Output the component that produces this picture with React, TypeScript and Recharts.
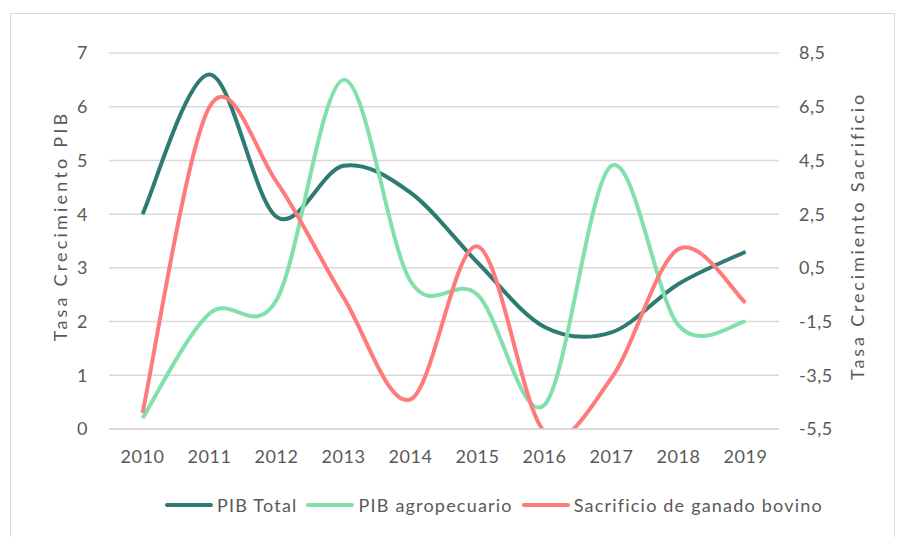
import { LineChart, Line, XAxis, YAxis, CartesianGrid, Legend } from 'recharts'

// años del eje X
const years = ['2010', '2011', '2012', '2013', '2014', '2015', '2016', '2017', '2018', '2019']

// eje izquierdo
const pibTotal = [4.0, 6.6, 3.95, 4.9, 4.4, 3.1, 1.9, 1.8, 2.7, 3.3]
const pibAgro = [0.2, 2.15, 2.4, 6.5, 2.75, 2.5, 0.45, 4.9, 1.93, 2.0]

// eje derecho
const sacrificio = [-4.9, 6.5, 3.7, -0.6, -4.4, 1.3, -5.6, -3.6, 1.2, -0.8]

const leftTicks = [0, 1, 2, 3, 4, 5, 6, 7]
const rightTicks = [-5.5, -3.5, -1.5, 0.5, 2.5, 4.5, 6.5, 8.5]

const FONT = 'Lato, "Noto Sans", sans-serif'
const TEXT = '#595959'
const GRID = '#d9d9d9'

const COLORS = {
  pibTotal: '#2E7B74',
  pibAgro: '#82E0AA',
  sacrificio: '#FF7B7B',
}

const chartData = years.map((year, i) => ({
  year,
  pibTotal: pibTotal[i],
  pibAgro: pibAgro[i],
  sacrificio: sacrificio[i],
}))

// curva suavizada tipo Excel (Catmull-Rom como Bezier)
const smoothCurve = (context: any) => {
  let pts: number[][] = []
  return {
    areaStart() {},
    areaEnd() {},
    lineStart() {
      pts = []
    },
    point(x: number, y: number) {
      pts.push([+x, +y])
    },
    lineEnd() {
      if (!pts.length) return
      context.moveTo(pts[0][0], pts[0][1])
      for (let i = 0; i < pts.length - 1; i++) {
        const p0 = pts[i - 1] || pts[i]
        const p1 = pts[i]
        const p2 = pts[i + 1]
        const p3 = pts[i + 2] || pts[i + 1]
        context.bezierCurveTo(
          p1[0] + (p2[0] - p0[0]) / 6,
          p1[1] + (p2[1] - p0[1]) / 6,
          p2[0] - (p3[0] - p1[0]) / 6,
          p2[1] - (p3[1] - p1[1]) / 6,
          p2[0],
          p2[1]
        )
      }
    },
  }
}

const fmtComma = (v: number) => String(v).replace('.', ',')

const tickStyle = { fill: TEXT, fontFamily: FONT, fontSize: 18, letterSpacing: 0.5 }

const LegendContent = ({ payload }: any) => (
  <div style={{ display: 'flex', alignItems: 'center', height: 24, paddingLeft: 165, fontFamily: FONT, fontSize: 18, letterSpacing: 1.2, color: TEXT }}>
    {(payload || []).map((p: any) => (
      <div key={p.value} style={{ display: 'flex', alignItems: 'center', marginRight: 9 }}>
        <div style={{ width: 48, height: 4, borderRadius: 2, background: p.color, marginRight: 4 }} />
        <span>{p.value}</span>
      </div>
    ))}
  </div>
)

const axisTitle = (text: string, dx: number, cy: number, spacing: number) => (props: any) => {
  const vb = props.viewBox || {}
  const x = vb.x + dx
  return (
    <text
      x={x}
      y={cy}
      transform={`rotate(-90, ${x}, ${cy})`}
      textAnchor="middle"
      dominantBaseline="central"
      fill={TEXT}
      fontFamily={FONT}
      fontSize={18}
      letterSpacing={spacing}
    >
      {text}
    </text>
  )
}

export default function App() {
  return (
    <div style={{ position: 'absolute', left: 0, top: 0, width: 900, height: 537, background: '#fff', overflow: 'hidden' }}>
      <div style={{ position: 'absolute', left: 10, top: 13, width: 885, height: 540, border: `1px solid ${GRID}`, boxSizing: 'border-box' }} />
      <LineChart
        width={900}
        height={537}
        data={chartData}
        margin={{ top: 53, right: 41, left: 39, bottom: 54 }}
        style={{ position: 'absolute', left: 0, top: 0 }}
      >
        <CartesianGrid vertical={false} stroke={GRID} strokeWidth={1.5} yAxisId="left" />
        <XAxis
          dataKey="year"
          padding={{ left: 33.5, right: 33.5 }}
          axisLine={{ stroke: GRID, strokeWidth: 1.5 }}
          tickLine={false}
          tickMargin={15}
          height={30}
          tick={tickStyle}
        />
        <YAxis
          yAxisId="left"
          domain={[0, 7]}
          ticks={leftTicks}
          width={70}
          axisLine={false}
          tickLine={false}
          tickMargin={15}
          tick={tickStyle}
          label={{ content: axisTitle('Tasa Crecimiento PIB', 21, 226, 3.2) }}
        />
        <YAxis
          yAxisId="right"
          orientation="right"
          domain={[-5.5, 8.5]}
          ticks={rightTicks}
          allowDataOverflow
          width={80}
          axisLine={false}
          tickLine={false}
          tickMargin={14}
          tickFormatter={fmtComma}
          tick={{ ...tickStyle, textAnchor: 'start' }}
          label={{ content: axisTitle('Tasa Crecimiento Sacrificio', 78, 236, 2.85) }}
        />
        <Legend verticalAlign="bottom" content={<LegendContent />} wrapperStyle={{ bottom: 20, left: 0, width: 900 }} />
        <Line
          yAxisId="left"
          dataKey="pibTotal"
          name="PIB Total"
          type={smoothCurve as any}
          stroke={COLORS.pibTotal}
          strokeWidth={4}
          dot={false}
          activeDot={false}
          isAnimationActive={false}
        />
        <Line
          yAxisId="left"
          dataKey="pibAgro"
          name="PIB agropecuario"
          type={smoothCurve as any}
          stroke={COLORS.pibAgro}
          strokeWidth={4}
          dot={false}
          activeDot={false}
          isAnimationActive={false}
        />
        <Line
          yAxisId="right"
          dataKey="sacrificio"
          name="Sacrificio de ganado bovino"
          type={smoothCurve as any}
          stroke={COLORS.sacrificio}
          strokeWidth={4}
          dot={false}
          activeDot={false}
          isAnimationActive={false}
        />
      </LineChart>
    </div>
  )
}
